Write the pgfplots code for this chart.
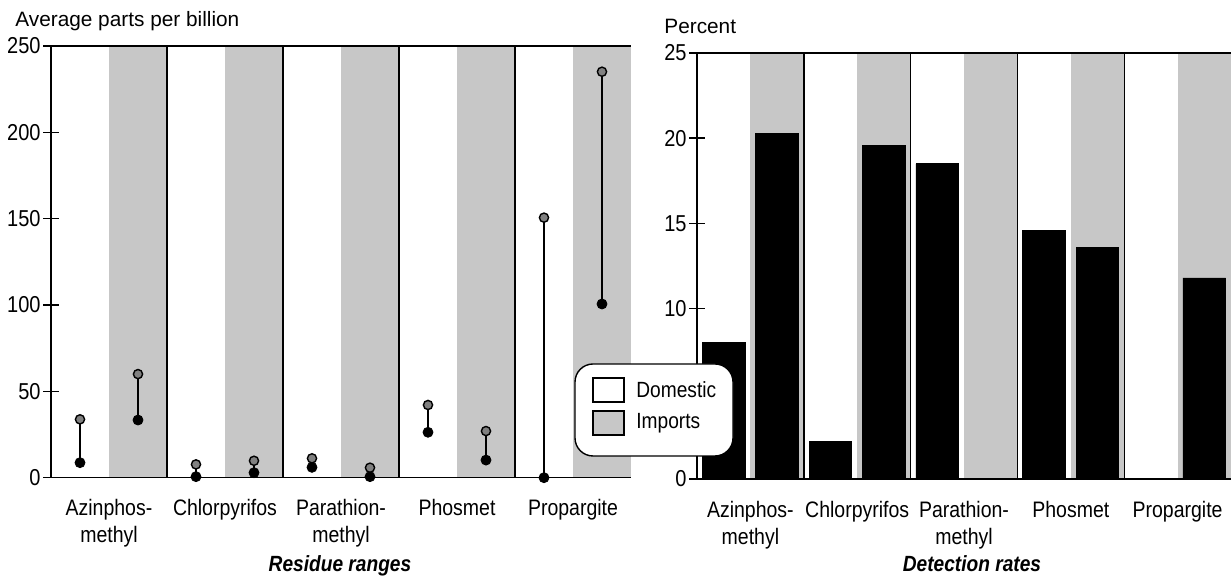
\documentclass[border=0pt]{standalone}
\usepackage{pgfplots}
\pgfplotsset{compat=1.18}
\usepackage{pgfplotstable}
\usepackage{fontspec}
\setmainfont{Liberation Sans}
\newfontfamily\narrow{Liberation Sans}[FakeStretch=0.87]

\pgfplotstableread{
x min max
0.25 8.7 33.8
0.75 33.4 60.0
1.25 0.6 7.7
1.75 2.9 9.8
2.25 6.0 11.2
2.75 0.6 5.8
3.25 26.3 42.1
3.75 10.2 27.0
4.25 0.0 150.6
4.75 100.6 235.1
}\ranges

\pgfplotstableread{
x val
0.25 8.0
1.25 2.2
2.25 18.5
3.25 14.6
4.25 0
}\dom
\pgfplotstableread{
x val
0.75 20.3
1.75 19.6
2.75 0
3.75 13.6
4.75 11.8
}\imp

\colorlet{band}{black!22}

\pgfplotsset{common/.style={
 scale only axis, enlargelimits=false, xmin=0, xmax=5,
 axis x line=bottom, axis y line=left, axis line style={-, line width=0.7pt},
 tick align=center, major tick length=8pt, tick style={line width=0.7pt, black},
 xtick={0.5,1.5,2.5,3.5,4.5},
 xticklabels={Azinphos-\\methyl, Chlorpyrifos, Parathion-\\methyl, Phosmet, Propargite},
 xtick style={draw=none},
 xticklabel style={align=center, font=\narrow\fontsize{11.2}{13.5}\selectfont, yshift=-3.5pt},
 yticklabel style={font=\narrow\fontsize{11.5}{12}\selectfont, inner sep=1pt},
 /pgf/number format/assume math mode=true,
 axis on top,
 clip=false,
}}

\begin{document}
\begin{tikzpicture}
\useasboundingbox (0,0) rectangle (615.5pt,288.5pt);

% ---------- left: residue ranges ----------
\begin{axis}[common, at={(25.5pt,49.65pt)}, anchor=south west,
  width=290pt, height=215.85pt, ymin=0, ymax=250, ytick={0,50,...,250}]
\fill[band] (axis cs:0.5,0) rectangle (axis cs:1,250);
\fill[band] (axis cs:1.5,0) rectangle (axis cs:2,250);
\fill[band] (axis cs:2.5,0) rectangle (axis cs:3,250);
\fill[band] (axis cs:3.5,0) rectangle (axis cs:4,250);
\fill[band] (axis cs:4.5,0) rectangle (axis cs:5,250);
\draw[line width=0.7pt] (axis cs:0,250) -- (axis cs:5,250);
\draw[line width=0.7pt] (axis cs:1,0) -- (axis cs:1,250);
\draw[line width=0.7pt] (axis cs:2,0) -- (axis cs:2,250);
\draw[line width=0.7pt] (axis cs:3,0) -- (axis cs:3,250);
\draw[line width=0.7pt] (axis cs:4,0) -- (axis cs:4,250);
\addplot[draw=none, mark=none, forget plot,
  error bars/.cd, y dir=plus, y explicit, error mark=none,
  error bar style={draw=black, line width=0.75pt}]
  table[x=x, y=min, y error expr=\thisrow{max}-\thisrow{min}] {\ranges};
\addplot[only marks, mark=*, mark size=2.5pt, mark options={fill=black, draw=black}]
  table[x=x, y=min] {\ranges};
\addplot[only marks, mark=*, mark size=2.3pt, mark options={fill=black!50, draw=black, line width=0.7pt}]
  table[x=x, y=max] {\ranges};
\end{axis}

% ---------- right: detection rates ----------
\begin{axis}[common, at={(348.5pt,49pt)}, anchor=south west,
  width=267pt, height=213pt, ymin=0, ymax=25, ytick={0,10,15,20,25}]
\fill[band] (axis cs:0.5,0) rectangle (axis cs:1,25);
\fill[band] (axis cs:1.5,0) rectangle (axis cs:2,25);
\fill[band] (axis cs:2.5,0) rectangle (axis cs:3,25);
\fill[band] (axis cs:3.5,0) rectangle (axis cs:4,25);
\fill[band] (axis cs:4.5,0) rectangle (axis cs:5,25);
\draw[line width=0.7pt] (axis cs:0,25) -- (axis cs:5,25);
\draw[line width=0.7pt] (axis cs:1,0) -- (axis cs:1,25);
\draw[line width=0.7pt] (axis cs:2,0) -- (axis cs:2,25);
\draw[line width=0.7pt] (axis cs:3,0) -- (axis cs:3,25);
\draw[line width=0.7pt] (axis cs:4,0) -- (axis cs:4,25);
\addplot[ybar, bar width=0.40, bar shift=0pt, fill=black, draw=black]
  table[x=x, y=val] {\dom};
\addplot[ybar, bar width=0.40, bar shift=0pt, fill=black, draw=black]
  table[x=x, y=val] {\imp};
\end{axis}

% ---------- titles ----------
\node[anchor=base west, inner sep=0, font=\fontsize{10.4}{12}\selectfont] at (7.5pt,275.2pt) {Average parts per billion};
\node[anchor=base west, inner sep=0, font=\fontsize{10.4}{12}\selectfont] at (332pt,271.6pt) {Percent};
\node[anchor=base, inner sep=0, font=\narrow\bfseries\itshape\fontsize{11}{12}\selectfont] at (170pt,2.5pt) {Residue ranges};
\node[anchor=base, inner sep=0, font=\narrow\bfseries\itshape\fontsize{11}{12}\selectfont] at (486pt,2.5pt) {Detection rates};

% ---------- legend ----------
\draw[line width=0.7pt, rounded corners=9pt, fill=white] (287.5pt,60.5pt) rectangle (366.5pt,106.5pt);
\draw[line width=0.6pt, fill=white] (296.5pt,87.5pt) rectangle (312pt,99.5pt);
\draw[line width=0.6pt, fill=band] (296.5pt,71pt) rectangle (312pt,83pt);
\node[anchor=west, inner sep=0, font=\narrow\fontsize{11}{12}\selectfont] at (318pt,93.5pt) {Domestic};
\node[anchor=west, inner sep=0, font=\narrow\fontsize{11}{12}\selectfont] at (318pt,77pt) {Imports};
\end{tikzpicture}
\end{document}
